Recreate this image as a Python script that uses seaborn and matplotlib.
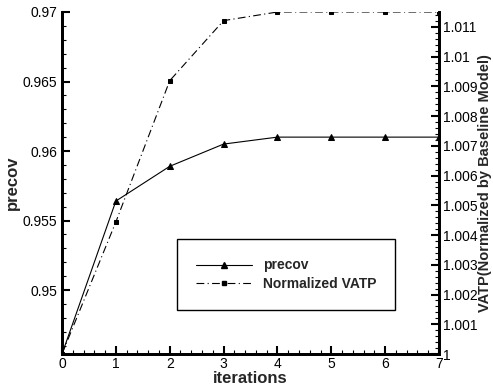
import matplotlib
matplotlib.use("Agg")
import matplotlib.pyplot as plt
import seaborn as sns
import pandas as pd
from matplotlib.ticker import MultipleLocator
from matplotlib.lines import Line2D

sns.set_theme(style="white")
plt.rcParams['font.family'] = ['Liberation Sans', 'DejaVu Sans']

iterations = [0, 1, 2, 3, 4, 5, 6, 7]
precov = [0.9454, 0.9564, 0.9589, 0.9605, 0.9610, 0.9610, 0.9610, 0.9610]
vatp = [1.0000, 1.00444, 1.00919, 1.01121, 1.01150, 1.01150, 1.01150, 1.01150]

df = pd.DataFrame({"iterations": iterations, "precov": precov, "vatp": vatp})

fig = plt.figure(figsize=(4.93, 3.87), dpi=100)
ax = fig.add_axes([62/493, 33/387, (439-62)/493, (354-12)/387])
ax.set_facecolor("white")
ax2 = ax.twinx()

sns.lineplot(data=df, x="iterations", y="precov", ax=ax, color="black",
             linewidth=0.8, marker="^", markersize=4, markeredgecolor="black")
sns.lineplot(data=df, x="iterations", y="vatp", ax=ax2, color="black",
             linewidth=0.8, marker="s", markersize=3, markeredgecolor="black",
             linestyle=(0, (7, 3, 1, 3)))

ax.set_xlim(0, 7)
ax.set_ylim(0.9454, 0.97)
ax2.set_ylim(1.0, 1.0115)

ax.xaxis.set_major_locator(MultipleLocator(1))
ax.xaxis.set_minor_locator(MultipleLocator(0.2))
ax.yaxis.set_major_locator(MultipleLocator(0.005))
ax.yaxis.set_minor_locator(MultipleLocator(0.001))
ax2.yaxis.set_major_locator(MultipleLocator(0.001))
ax2.yaxis.set_minor_locator(MultipleLocator(0.0002))

ax.set_yticks([0.95, 0.955, 0.96, 0.965, 0.97])
ax.set_yticklabels(["0.95", "0.955", "0.96", "0.965", "0.97"])
ax2.set_yticks([1 + 0.001*i for i in range(12)])
ax2.set_yticklabels(["1"] + ["%g" % (1 + 0.001*i) for i in range(1, 12)])

for a in (ax, ax2):
    a.tick_params(which="major", direction="in", length=6, width=1.5, labelsize=10, colors="black")
    a.tick_params(which="minor", direction="in", length=3, width=0.8, colors="black")
    for s in a.spines.values():
        s.set_linewidth(2)
        s.set_color("black")
    a.spines["top"].set_visible(False)
ax.tick_params(axis="x", which="both", bottom=True, top=False, pad=2)
ax.tick_params(axis="y", which="both", left=True, right=False)
ax2.tick_params(axis="y", which="both", right=True, left=False, pad=3)

ax.set_xlabel("iterations", fontsize=12, fontweight="bold", labelpad=0)
ax.set_ylabel("precov", fontsize=12, fontweight="bold", labelpad=2)
ax2.set_ylabel("VATP(Normalized by Baseline Model)", fontsize=10.5, fontweight="bold", labelpad=0)

handles = [
    Line2D([], [], color="black", linewidth=0.8, marker="^", markersize=4),
    Line2D([], [], color="black", linewidth=0.8, marker="s", markersize=3, linestyle=(0, (7, 3, 1, 3))),
]
leg = ax.legend(handles, ["precov", "Normalized VATP"], loc="upper left",
                bbox_to_anchor=(177/493, 1 - 309/387, (395-177)/493, (309-239)/387),
                bbox_transform=fig.transFigure, mode="expand",
                fancybox=False, framealpha=1, edgecolor="black",
                prop={"weight": "bold", "size": 10}, handlelength=4,
                borderaxespad=0, borderpad=1.4, labelspacing=0.3)
leg.get_frame().set_linewidth(1.0)

fig.savefig("out.png", dpi=100)
